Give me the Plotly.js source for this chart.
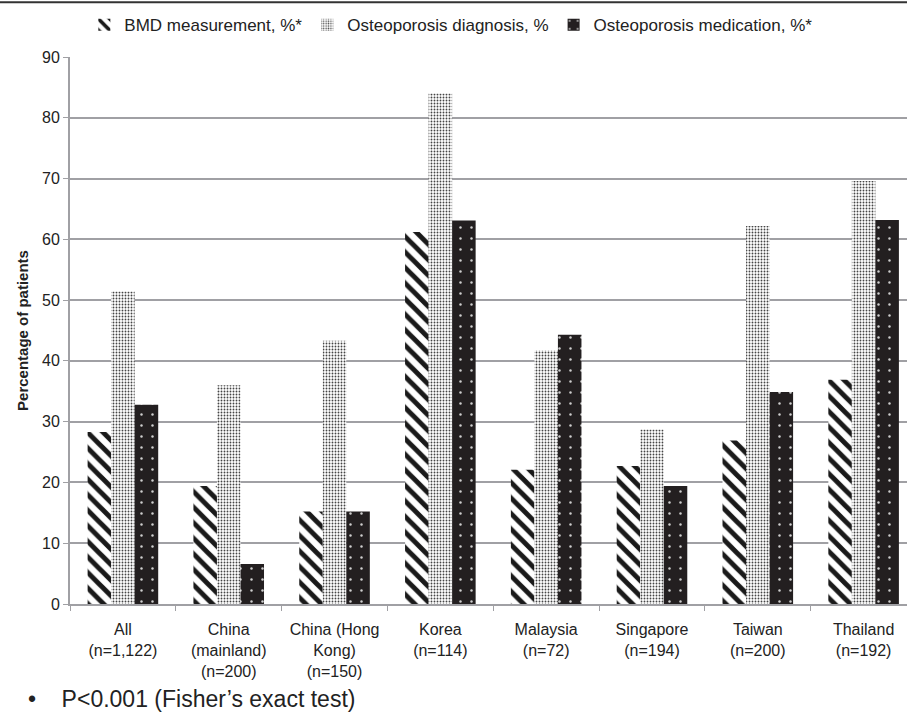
<!DOCTYPE html>
<html>
<head>
<meta charset="utf-8">
<script src="https://cdn.plot.ly/plotly-3.0.1.min.js"></script>
<style>html,body{margin:0;padding:0;background:#fff;}#chart{width:907px;height:715px;}</style>
</head>
<body>
<div id="chart"></div>
<script>
const categories = ["All<br>(n=1,122)", "China<br>(mainland)<br>(n=200)", "China (Hong<br>Kong)<br>(n=150)", "Korea<br>(n=114)", "Malaysia<br>(n=72)", "Singapore<br>(n=194)", "Taiwan<br>(n=200)", "Thailand<br>(n=192)"];
const bmdMeasurement = [28.3, 19.4, 15.2, 61.2, 22.1, 22.7, 26.9, 36.9];
const osteoDiagnosis = [51.4, 36.0, 43.3, 84.0, 41.7, 28.7, 62.2, 69.6];
const osteoMedication = [32.8, 6.6, 15.2, 63.1, 44.3, 19.4, 34.9, 63.2];
const seriesNames = ["BMD measurement, %*", "Osteoporosis diagnosis, %", "Osteoporosis medication, %*"];
const yTicks = [0, 10, 20, 30, 40, 50, 60, 70, 80, 90];

const traces = [
  {type: "bar", name: seriesNames[0], x: categories, y: bmdMeasurement,
   marker: {color: "#ffffff", line: {width: 0},
     pattern: {shape: "\\", fgcolor: "#1a1a1a", bgcolor: "#ffffff", size: 11, solidity: 0.45}}},
  {type: "bar", name: seriesNames[1], x: categories, y: osteoDiagnosis,
   marker: {color: "#ffffff", line: {width: 0},
     pattern: {shape: ".", fgcolor: "#444444", bgcolor: "#ffffff", size: 3, solidity: 0.3}}},
  {type: "bar", name: seriesNames[2], x: categories, y: osteoMedication,
   marker: {color: "#231f20", line: {width: 0},
     pattern: {shape: ".", fgcolor: "#cfcfcf", bgcolor: "#231f20", size: 11, solidity: 0.04}}}
];

const layout = {
  width: 907, height: 715,
  margin: {l: 70, r: 0, t: 57, b: 111},
  paper_bgcolor: "#ffffff", plot_bgcolor: "#ffffff",
  font: {family: "Liberation Sans, Arial, sans-serif", size: 16, color: "#222"},
  barmode: "group", bargap: 0.333, bargroupgap: 0,
  showlegend: true,
  legend: {orientation: "h", x: 0.455, xanchor: "center", y: 1.058, yanchor: "middle",
           font: {size: 17, color: "#222"}, itemwidth: 30, traceorder: "normal"},
  xaxis: {type: "category", range: [-0.5, 7.41], showline: true, linecolor: "#a0a0a4", linewidth: 2,
          ticks: "outside", tickson: "boundaries", ticklen: 5, tickcolor: "#a0a0a4",
          ticklabelstandoff: 10,
          tickfont: {size: 16, color: "#222"}, showgrid: false, fixedrange: true},
  yaxis: {range: [0, 90], tickvals: yTicks, showline: true, linecolor: "#a0a0a4", linewidth: 2,
          ticks: "outside", ticklen: 5, tickcolor: "#a0a0a4",
          showgrid: true, gridcolor: "#a0a0a4", gridwidth: 2, zeroline: false,
          tickfont: {size: 16, color: "#222"},
          title: {text: "<b>Percentage of patients</b>", font: {size: 15, color: "#222"}, standoff: 10}},
  shapes: [{type: "line", xref: "paper", yref: "paper", x0: -0.1, x1: 1.0, y0: 1.1, y1: 1.1,
            line: {color: "#333", width: 2}}],
  annotations: [{xref: "paper", yref: "paper", x: -0.052, y: -0.174, xanchor: "left", yanchor: "middle",
                 showarrow: false, text: "•    P<0.001 (Fisher’s exact test)", font: {size: 23, color: "#222"}}]
};

Plotly.newPlot("chart", traces, layout, {displayModeBar: false, staticPlot: true});
</script>
</body>
</html>
